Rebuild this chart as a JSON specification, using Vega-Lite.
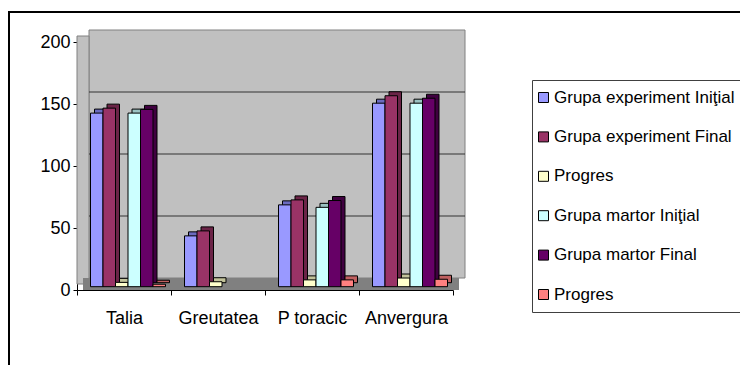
{
  "$schema": "https://vega.github.io/schema/vega-lite/v6.json",
  "width": 740,
  "height": 360,
  "autosize": {"type": "none"},
  "padding": {"left": 9, "top": 12, "right": 0, "bottom": 0},
  "background": "white",
  "config": {
    "view": {"stroke": "black", "strokeWidth": 2, "fill": "white"},
    "font": "Liberation Sans",
    "axis": {
      "domainColor": "black",
      "tickColor": "black",
      "labelColor": "black",
      "labelFont": "Liberation Sans",
      "labelFontSize": 18,
      "grid": false,
      "title": null,
      "zindex": 1
    },
    "legend": {
      "orient": "none",
      "legendX": 523,
      "legendY": 68,
      "strokeColor": "#404040",
      "fillColor": "white",
      "padding": 9,
      "labelFont": "Liberation Sans",
      "labelFontSize": 17,
      "labelColor": "black",
      "labelLimit": 0,
      "labelOffset": 2,
      "symbolOffset": -6,
      "symbolType": "square",
      "symbolSize": 100,
      "symbolStrokeColor": "black",
      "symbolStrokeWidth": 1,
      "rowPadding": 21.4
    }
  },
  "datasets": {
    "scores": [
      {"cat": "Talia", "serie": "Grupa experiment Iniţial", "val": 140},
      {"cat": "Talia", "serie": "Grupa experiment Final", "val": 144},
      {"cat": "Talia", "serie": "Progres (experiment)", "val": 3.5},
      {"cat": "Talia", "serie": "Grupa martor Iniţial", "val": 140},
      {"cat": "Talia", "serie": "Grupa martor Final", "val": 143},
      {"cat": "Talia", "serie": "Progres (martor)", "val": 2},
      {"cat": "Greutatea", "serie": "Grupa experiment Iniţial", "val": 41},
      {"cat": "Greutatea", "serie": "Grupa experiment Final", "val": 45},
      {"cat": "Greutatea", "serie": "Progres (experiment)", "val": 4},
      {"cat": "P toracic", "serie": "Grupa experiment Iniţial", "val": 66},
      {"cat": "P toracic", "serie": "Grupa experiment Final", "val": 70},
      {"cat": "P toracic", "serie": "Progres (experiment)", "val": 5.5},
      {"cat": "P toracic", "serie": "Grupa martor Iniţial", "val": 64},
      {"cat": "P toracic", "serie": "Grupa martor Final", "val": 69.5},
      {"cat": "P toracic", "serie": "Progres (martor)", "val": 5.5},
      {"cat": "Anvergura", "serie": "Grupa experiment Iniţial", "val": 148},
      {"cat": "Anvergura", "serie": "Grupa experiment Final", "val": 154},
      {"cat": "Anvergura", "serie": "Progres (experiment)", "val": 7},
      {"cat": "Anvergura", "serie": "Grupa martor Iniţial", "val": 148},
      {"cat": "Anvergura", "serie": "Grupa martor Final", "val": 152},
      {"cat": "Anvergura", "serie": "Progres (martor)", "val": 6}
    ],
    "levels": [{"v": 50}, {"v": 100}, {"v": 150}]
  },
  "layer": [
    {
      "data": {"name": "scores"},
      "mark": {"type": "bar", "opacity": 0},
      "encoding": {
        "x": {"field": "cat", "type": "nominal",
          "sort": ["Talia", "Greutatea", "P toracic", "Anvergura"],
          "scale": {"domain": ["Talia", "Greutatea", "P toracic", "Anvergura"], "range": [68, 444], "paddingInner": 0, "paddingOuter": 0},
          "axis": {"orient": "bottom", "offset": -82, "tickBand": "extent", "tickSize": 5, "labelPadding": 14, "labelAngle": 0}},
        "y": {"field": "val", "type": "quantitative",
          "scale": {"domain": [0, 200], "range": [278, 30], "nice": false, "zero": true},
          "axis": {"orient": "left", "offset": -68, "values": [0, 50, 100, 150, 200], "tickSize": 4, "labelPadding": 3}}
      }
    },
    {
      "data": {"values": [{}]},
      "mark": {"type": "rect", "fill": "#c0c0c0", "stroke": "#808080", "strokeWidth": 1,
               "xOffset": 12, "x2Offset": 12, "yOffset": -12, "y2Offset": -12},
      "encoding": {
        "x": {"datum": "Talia", "type": "nominal", "bandPosition": 0},
        "x2": {"datum": "Anvergura", "bandPosition": 1},
        "y": {"datum": 0, "type": "quantitative"},
        "y2": {"datum": 200}
      }
    },
    {
      "data": {"values": [{}]},
      "mark": {"type": "rect", "fill": "#c0c0c0", "stroke": "#808080", "strokeWidth": 1,
               "xOffset": 0, "x2Offset": 12, "yOffset": -6, "y2Offset": -6},
      "encoding": {
        "x": {"datum": "Talia", "type": "nominal", "bandPosition": 0},
        "x2": {"datum": "Talia", "bandPosition": 0},
        "y": {"datum": 0, "type": "quantitative"},
        "y2": {"datum": 200}
      }
    },
    {
      "data": {"values": [{}]},
      "mark": {"type": "rect", "fill": "#808080",
               "xOffset": 6, "x2Offset": 6, "yOffset": 0, "y2Offset": -12},
      "encoding": {
        "x": {"datum": "Talia", "type": "nominal", "bandPosition": 0},
        "x2": {"datum": "Anvergura", "bandPosition": 1},
        "y": {"datum": 0, "type": "quantitative"},
        "y2": {"datum": 0}
      }
    },
    {
      "data": {"name": "levels"},
      "mark": {"type": "rule", "color": "#333333", "strokeWidth": 1,
               "xOffset": 12, "x2Offset": 12, "yOffset": -12},
      "encoding": {
        "x": {"datum": "Talia", "type": "nominal", "bandPosition": 0},
        "x2": {"datum": "Anvergura", "bandPosition": 1},
        "y": {"field": "v", "type": "quantitative"}
      }
    },
    {
      "data": {"name": "scores"},
      "mark": {"type": "bar", "stroke": "black", "strokeWidth": 1, "yOffset": -7.3, "y2Offset": -7.3},
      "encoding": {
        "x": {"field": "cat", "type": "nominal"},
        "xOffset": {"field": "serie", "type": "nominal",
          "scale": {"domain": ["Grupa experiment Iniţial", "Grupa experiment Final", "Progres (experiment)", "Grupa martor Iniţial", "Grupa martor Final", "Progres (martor)"],
                    "range": [8, 102], "paddingInner": 0, "paddingOuter": 0.76}},
        "y": {"field": "val", "type": "quantitative"},
        "color": {"field": "serie", "type": "nominal", "legend": null,
          "scale": {"domain": ["Grupa experiment Iniţial", "Grupa experiment Final", "Progres (experiment)", "Grupa martor Iniţial", "Grupa martor Final", "Progres (martor)"],
                    "range": ["#6b6bbf", "#6b2447", "#c2c29a", "#9ac2c2", "#400040", "#c06060"]}}
      }
    },
    {
      "data": {"name": "scores"},
      "mark": {"type": "bar", "stroke": "black", "strokeWidth": 1, "yOffset": -3.3, "y2Offset": -3.3},
      "encoding": {
        "x": {"field": "cat", "type": "nominal"},
        "xOffset": {"field": "serie", "type": "nominal",
          "scale": {"domain": ["Grupa experiment Iniţial", "Grupa experiment Final", "Progres (experiment)", "Grupa martor Iniţial", "Grupa martor Final", "Progres (martor)"],
                    "range": [4, 98], "paddingInner": 0, "paddingOuter": 0.76}},
        "y": {"field": "val", "type": "quantitative"},
        "color": {"field": "serie", "type": "nominal",
          "scale": {"domain": ["Grupa experiment Iniţial", "Grupa experiment Final", "Progres (experiment)", "Grupa martor Iniţial", "Grupa martor Final", "Progres (martor)"],
                    "range": ["#9999ff", "#993366", "#ffffcc", "#ccffff", "#660066", "#ff8080"]},
          "legend": {"title": null, "labelExpr": "datum.label == 'Progres (experiment)' || datum.label == 'Progres (martor)' ? 'Progres' : datum.label"}}
      }
    }
  ],
  "resolve": {"scale": {"xOffset": "independent", "color": "independent"}}
}
